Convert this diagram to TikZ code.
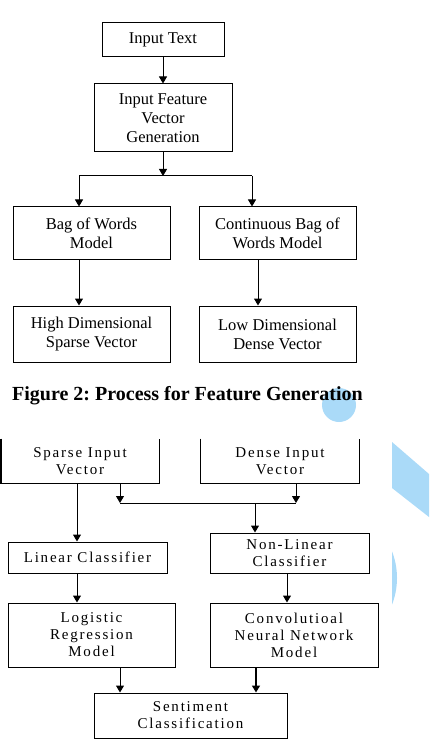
\documentclass[tikz,border=0pt]{standalone}
\usepackage{fontspec}
\setmainfont{Liberation Serif}
\newfontfamily\widefont[LetterSpace=12]{Liberation Serif}
\usetikzlibrary{arrows.meta}
\definecolor{wmblue}{RGB}{170,218,248}
\frenchspacing
\tikzset{
  box/.style={draw, line width=1pt, align=center, inner sep=0pt,
    font=\fontsize{16.5}{19}\selectfont},
  wbox/.style={draw, line width=1pt, align=center, inner sep=0pt,
    font=\widefont\fontsize{15}{17}\selectfont},
  arr/.style={-{Triangle[width=8pt,length=7pt]}, line width=1pt},
}

\begin{document}
\begin{tikzpicture}[x=1pt,y=-1pt]
    \useasboundingbox (0,0) rectangle (429,743);

    % watermark in the background
    \fill[wmblue] (339,405) circle (17pt);
    \fill[wmblue] (392,442) -- (429,474) -- (429,517) -- (392,488) -- cycle;
    \begin{scope}
      \clip (392,540) rectangle (429,620);
      \fill[wmblue] (324,578) circle (73pt);
    \end{scope}

    % upper figure: feature generation
    \node[box, minimum width=122pt, minimum height=34pt] (intext) at (163,40) {Input Text};
    \node[box, minimum width=138pt, minimum height=68pt] (infeat) at (163,118) {Input Feature\\Vector\\Generation};
    \node[box, minimum width=157pt, minimum height=52pt] (bow) at (91.5,233) {Bag of Words\\Model};
    \node[box, minimum width=157pt, minimum height=52pt] (cbow) at (277.5,233) {Continuous Bag of\\Words Model};
    \node[box, minimum width=157pt, minimum height=56pt] (hdim) at (91.5,334) {High Dimensional\\Sparse Vector};
    \node[box, minimum width=157pt, minimum height=56pt] (ldim) at (277.5,334) {Low Dimensional\\Dense Vector};

    \coordinate (split) at (163,176);
    \coordinate (splitl) at (79,176);
    \coordinate (splitr) at (252,176);
    \coordinate (cright) at (258,0);

    \draw[arr] (intext) -- (infeat);
    \draw[arr] (infeat) -- (split);
    \draw[line width=1pt] (splitl) -- (splitr);
    \draw[arr] (splitl) -- (splitl |- bow.north);
    \draw[arr] (splitr) -- (splitr |- cbow.north);
    \draw[arr] (bow.south -| splitl) -- (hdim.north -| splitl);
    \draw[arr] (cbow.south -| cright) -- (ldim.north -| cright);

    \node[anchor=base west, inner sep=0pt, font=\bfseries\fontsize{20}{24}\selectfont] (caption) at (12,400)
      {Figure 2: Process for Feature Generation};

    % lower figure: classification
    \node[wbox, draw=none, minimum width=158pt, minimum height=44pt] (sparse) at (80,461) {Sparse Input\\Vector};
    \node[wbox, draw=none, minimum width=158pt, minimum height=44pt] (dense) at (280,461) {Dense Input\\Vector};
    \draw[line width=2pt] (sparse.north west) -- (sparse.south west);
    \draw[line width=1pt] (sparse.south west) -- (sparse.south east) -- (sparse.north east);
    \draw[line width=1pt] (dense.north west) -- (dense.south west) -- (dense.south east) -- (dense.north east);

    \node[wbox, minimum width=159pt, minimum height=31pt] (linear) at (87.5,557.5) {Linear Classifier};
    \node[wbox, minimum width=159pt, minimum height=40pt] (nonlin) at (289.5,553) {Non-Linear\\Classifier};
    \node[wbox, minimum width=167pt, minimum height=64pt] (logistic) at (91.5,635) {Logistic\\Regression\\Model};
    \node[wbox, minimum width=168pt, minimum height=64pt] (cnn) at (294,635) {Convolutioal\\Neural Network\\Model};
    \node[wbox, minimum width=193pt, minimum height=45pt] (sent) at (190.5,715.5) {Sentiment\\Classification};

    \coordinate (ca) at (77,0);
    \coordinate (cb) at (120,0);
    \coordinate (cc) at (296,0);
    \coordinate (cd) at (287,0);
    \coordinate (ce) at (256,0);
    \coordinate (join) at (255,503);
    \coordinate (joinl) at (120,503);
    \coordinate (joinr) at (296,503);

    \draw[arr] (sparse.south -| ca) -- (linear.north -| ca);
    \draw[arr] (sparse.south -| cb) -- (joinl);
    \draw[arr] (dense.south -| cc) -- (joinr);
    \draw[line width=1pt] (joinl) -- (joinr);
    \draw[arr] (join) -- (nonlin.north -| join);
    \draw[arr] (linear.south -| ca) -- (logistic.north -| ca);
    \draw[arr] (nonlin.south -| cd) -- (cnn.north -| cd);
    \draw[arr] (logistic.south -| cb) -- (sent.north -| cb);
    \draw[arr, line width=1.5pt] (cnn.south -| ce) -- (sent.north -| ce);

\end{tikzpicture}
\end{document}
